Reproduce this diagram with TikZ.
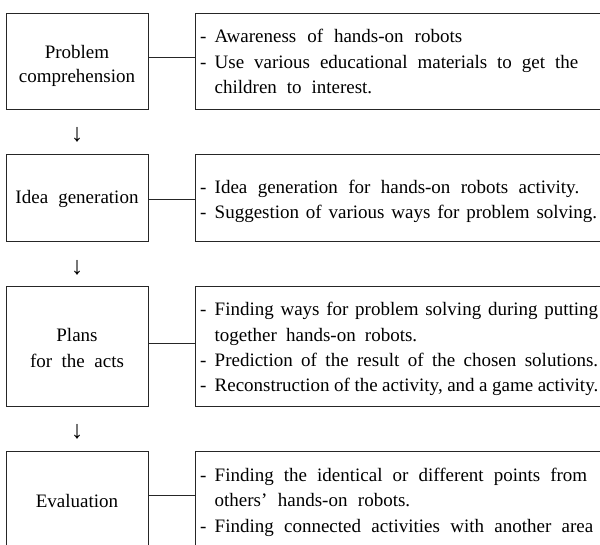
\documentclass[tikz,border=0pt]{standalone}
\usepackage{fontspec}
\setmainfont{Liberation Serif}
\newcommand\dashitem{\makebox[14.5pt][l]{-}}
\newcommand\jline[2]{\makebox[#1][s]{#2}}
\begin{document}
\begin{tikzpicture}[x=1pt,y=-1pt,
  boxline/.style={draw=black!85,line width=0.9pt},
  lbox/.style={boxline,minimum width=142.6pt,inner sep=0pt,anchor=north west},
  rbox/.style={boxline,minimum width=409pt,inner sep=0pt,anchor=north west},
  link/.style={boxline},
  txt/.style={font=\fontsize{19}{25}\selectfont,inner sep=0pt},
  ltxt/.style={txt,anchor=base},
  rtxt/.style={txt,anchor=base west},
  dn/.style={font=\fontsize{25}{30}\selectfont,inner sep=0pt,anchor=center}]
\useasboundingbox (0,0) rectangle (600,544);
\clip (0,0) rectangle (600,544);
% boxes
\node[lbox,minimum height=96.6pt] (l1) at (5.7,12.7) {};
\node[rbox,minimum height=96.6pt] (r1) at (195,12.7) {};
\node[lbox,minimum height=87.3pt] (l2) at (5.7,154) {};
\node[rbox,minimum height=87.3pt] (r2) at (195,154) {};
\node[lbox,minimum height=120.3pt] (l3) at (5.7,285.7) {};
\node[rbox,minimum height=120.3pt] (r3) at (195,285.7) {};
\node[lbox,minimum height=110pt] (l4) at (5.7,450.7) {};
\node[rbox,minimum height=110pt] (r4) at (195,450.7) {};
% connectors
\draw[link] ([yshift=4.3pt]l1.east) -- ([yshift=4.3pt]r1.west);
\draw[link] ([yshift=-1.35pt]l2.east) -- ([yshift=-1.35pt]r2.west);
\draw[link] ([yshift=2.85pt]l3.east) -- ([yshift=2.85pt]r3.west);
\draw[link] ([yshift=11pt]l4.east) -- ([yshift=11pt]r4.west);
% arrows
\node[dn] (a1) at (77,134.7) {↓};
\node[dn] (a2) at (77,268) {↓};
\node[dn] (a3) at (77,432) {↓};
% left texts
\node[ltxt] (p1a) at (77,58.3) {Problem};
\node[ltxt] (p1b) at (77,82.7) {comprehension};
\node[ltxt] (p2a) at (77,203.3) {\jline{123pt}{Idea generation}};
\node[ltxt] (p3a) at (77,341.3) {Plans};
\node[ltxt] (p3b) at (77,367) {\jline{94pt}{for the acts}};
\node[ltxt] (p4a) at (77,507.7) {Evaluation};
% right texts
\node[rtxt] (d1a) at (200,42.5) {\jline{262pt}{\dashitem Awareness of hands-on robots}};
\node[rtxt] (d1b) at (200,68) {\jline{378pt}{\dashitem Use various educational materials to get the}};
\node[rtxt] (d1c) at (214.5,93.5) {\jline{157.5pt}{children to interest.}};
\node[rtxt] (d2a) at (200,193.5) {\jline{379pt}{\dashitem Idea generation for hands-on robots activity.}};
\node[rtxt] (d2b) at (200,218.5) {\jline{397pt}{\dashitem Suggestion of various ways for problem solving.}};
\node[rtxt] (d3a) at (200,315) {\jline{398pt}{\dashitem Finding ways for problem solving during putting}};
\node[rtxt] (d3b) at (214.5,341) {\jline{202.5pt}{together hands-on robots.}};
\node[rtxt] (d3c) at (200,366.5) {\jline{398pt}{\dashitem Prediction of the result of the chosen solutions.}};
\node[rtxt] (d3d) at (200,391.5) {\jline{398pt}{\dashitem Reconstruction of the activity, and a game activity.}};
\node[rtxt] (d4a) at (200,481) {\jline{387pt}{\dashitem Finding the identical or different points from}};
\node[rtxt] (d4b) at (214.5,506.5) {\jline{195.5pt}{others’ hands-on robots.}};
\node[rtxt] (d4c) at (200,532) {\jline{393pt}{\dashitem Finding connected activities with another area}};
\end{tikzpicture}
\end{document}
